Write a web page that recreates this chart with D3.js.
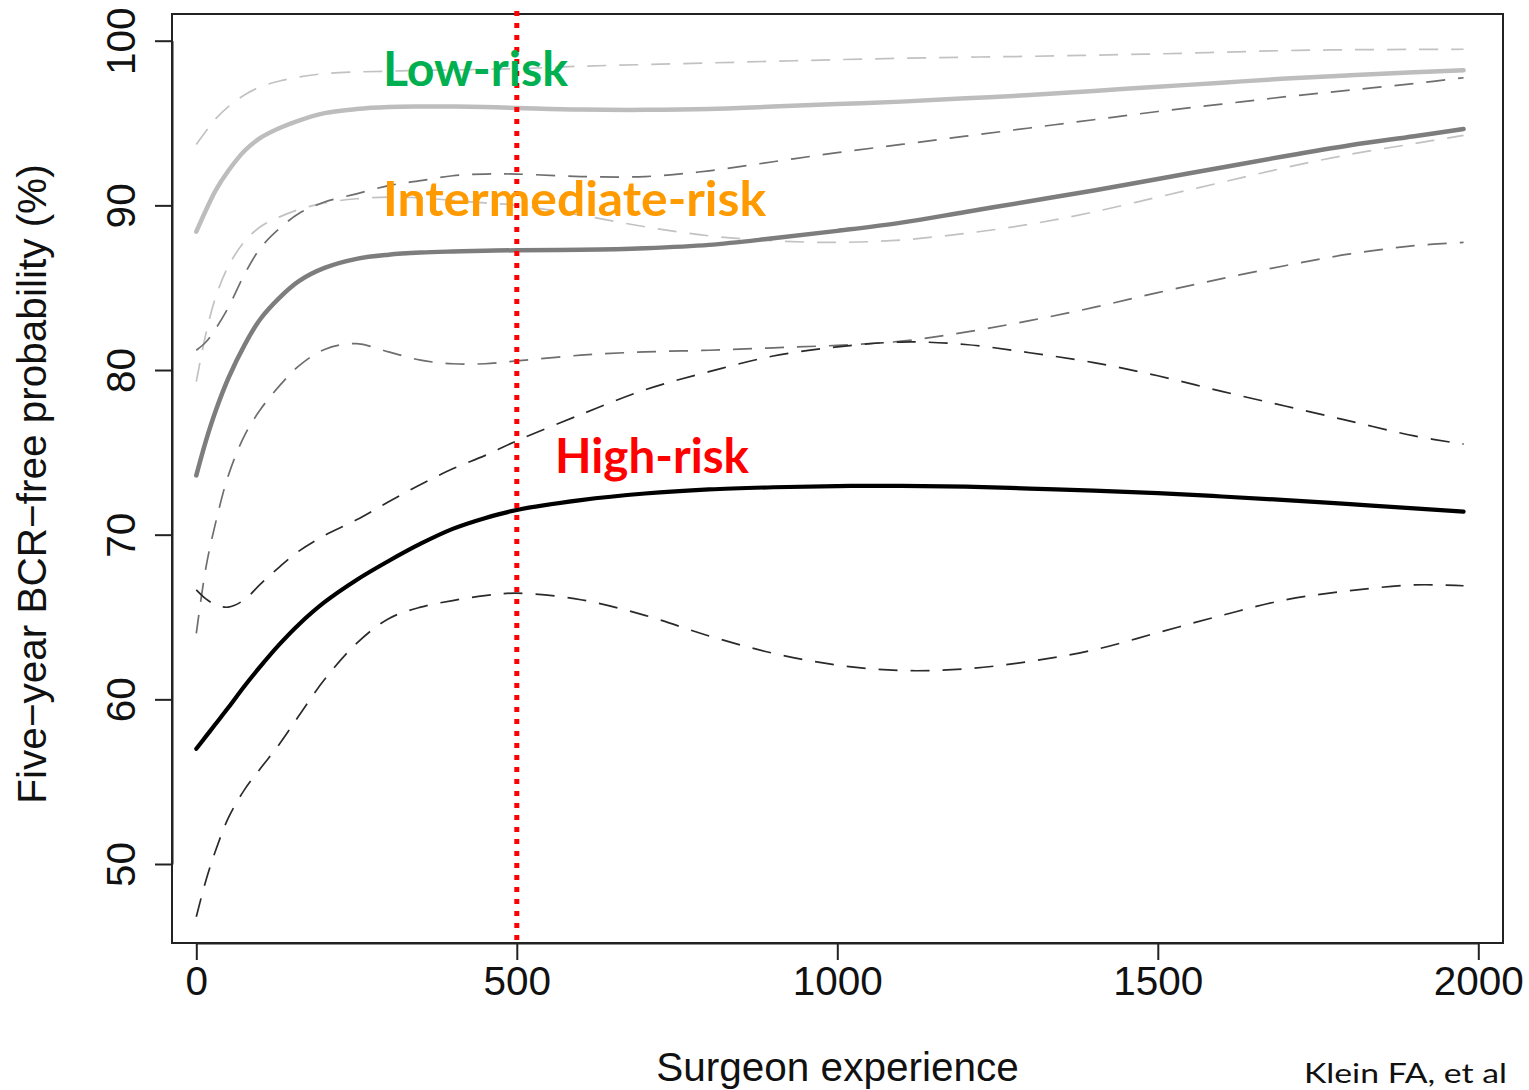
<!DOCTYPE html>
<html>
<head>
<meta charset="utf-8">
<script src="https://cdn.jsdelivr.net/npm/d3@7"></script>
<style>
  html, body { margin: 0; padding: 0; background: #fff; }
  svg { display: block; }
</style>
</head>
<body>
<svg id="chart" width="1529" height="1090"></svg>
<script>
// Surgeon experience grid (cases) shared by every curve
const experience = [0, 15, 30, 50, 75, 100, 130, 160, 200, 250, 300, 350, 400, 450, 500,
  600, 700, 800, 900, 1000, 1100, 1200, 1300, 1400, 1500, 1600, 1700, 1800, 1900, 1977];

// Five-year BCR-free probability (%), low-risk group
const lowUpper = [93.7, 94.5, 95.25, 96.0, 96.7, 97.2, 97.55, 97.8, 98.0, 98.1, 98.15, 98.2, 98.22, 98.26, 98.3,
  98.45, 98.55, 98.65, 98.75, 98.85, 98.93, 99.0, 99.05, 99.12, 99.2, 99.3, 99.4, 99.45, 99.47, 99.48];
const lowMean = [88.4, 89.7, 90.9, 92.1, 93.3, 94.1, 94.7, 95.15, 95.6, 95.85, 95.97, 96.0, 96.0, 95.97, 95.92,
  95.82, 95.8, 95.85, 96.0, 96.15, 96.3, 96.5, 96.7, 96.95, 97.2, 97.45, 97.7, 97.9, 98.08, 98.2];
const lowLower = [79.3, 82.2, 84.4, 86.3, 87.8, 88.7, 89.3, 89.75, 90.15, 90.4, 90.5, 90.45, 90.3, 90.15, 90.0,
  89.4, 88.7, 88.15, 87.85, 87.75, 87.9, 88.3, 88.85, 89.6, 90.5, 91.4, 92.3, 93.1, 93.75, 94.25];

// Intermediate-risk group
const interUpper = [81.2, 81.7, 82.5, 83.8, 85.8, 87.4, 88.6, 89.5, 90.2, 90.7, 91.2, 91.5, 91.8, 91.9, 91.9,
  91.75, 91.75, 92.1, 92.65, 93.2, 93.7, 94.2, 94.7, 95.2, 95.7, 96.15, 96.6, 97.0, 97.4, 97.75];
const interMean = [73.6, 75.7, 77.5, 79.5, 81.5, 83.1, 84.4, 85.4, 86.2, 86.75, 87.0, 87.13, 87.2, 87.25, 87.27,
  87.3, 87.4, 87.6, 88.0, 88.45, 88.95, 89.6, 90.25, 90.9, 91.6, 92.3, 93.0, 93.65, 94.2, 94.64];
const interLower = [64.0, 68.0, 70.7, 73.6, 76.0, 77.6, 79.05, 80.25, 81.25, 81.6, 81.1, 80.6, 80.38, 80.38, 80.55,
  80.9, 81.1, 81.2, 81.35, 81.5, 81.75, 82.3, 83.0, 83.8, 84.7, 85.55, 86.35, 87.05, 87.55, 87.75];

// High-risk group
const highUpper = [66.65, 66.1, 65.75, 65.6, 66.05, 67.0, 68.05, 69.0, 69.95, 70.9, 72.0, 73.05, 74.0, 74.8, 75.7,
  77.3, 78.8, 79.9, 80.85, 81.4, 81.7, 81.55, 81.05, 80.45, 79.65, 78.7, 77.8, 76.9, 76.0, 75.5];
const highMean = [57.0, 57.75, 58.5, 59.5, 60.8, 62.0, 63.35, 64.55, 65.9, 67.25, 68.4, 69.45, 70.35, 71.0, 71.5,
  72.1, 72.5, 72.75, 72.88, 72.95, 72.97, 72.92, 72.8, 72.68, 72.52, 72.32, 72.1, 71.85, 71.6, 71.4];
const highLower = [46.8, 49.0, 50.8, 52.8, 54.5, 55.8, 57.3, 59.0, 61.2, 63.4, 64.9, 65.6, 66.0, 66.3, 66.45,
  66.05, 65.1, 63.85, 62.8, 62.08, 61.75, 61.85, 62.3, 63.0, 64.05, 65.1, 66.05, 66.6, 66.95, 66.9];

// Axis ticks, labels and annotations
const xTicks = [0, 500, 1000, 1500, 2000];
const yTicks = [50, 60, 70, 80, 90, 100];
const cutoff = 500;
const xTitle = "Surgeon experience";
const yTitle = "Five\u2212year BCR\u2212free probability (%)";
const groupLabels = ["Low-risk", "Intermediate-risk", "High-risk"];
const citation = "Klein FA, et al";

const svg = d3.select("#chart");
const rFont = "'Liberation Sans', Arial, sans-serif";

const x = d3.scaleLinear().domain([0, 2000]).range([196.3, 1478.3]);
const y = d3.scaleLinear().domain([50, 100]).range([864, 40.7]);

const box = { left: 172, top: 14, right: 1503, bottom: 943 };

const line = d3.line()
  .x((d, i) => x(experience[i]))
  .y(d => y(d))
  .curve(d3.curveCatmullRom.alpha(0.5));

const series = [
  { values: lowUpper,   color: "#c2c2c2", width: 1.7, dash: "19,13" },
  { values: lowLower,   color: "#c2c2c2", width: 1.7, dash: "19,13" },
  { values: interUpper, color: "#6e6e6e", width: 1.7, dash: "19,13" },
  { values: interLower, color: "#6e6e6e", width: 1.7, dash: "19,13" },
  { values: highUpper,  color: "#2a2a2a", width: 1.7, dash: "19,13" },
  { values: highLower,  color: "#2a2a2a", width: 1.7, dash: "19,13" },
  { values: lowMean,    color: "#bdbdbd", width: 4.5, dash: null },
  { values: interMean,  color: "#7d7d7d", width: 4.5, dash: null },
  { values: highMean,   color: "#000000", width: 4.2, dash: null }
];

const plot = svg.append("g");
series.forEach(s => {
  plot.append("path")
    .datum(s.values)
    .attr("d", line)
    .attr("fill", "none")
    .attr("stroke", s.color)
    .attr("stroke-width", s.width)
    .attr("stroke-linecap", s.dash ? "butt" : "round")
    .attr("stroke-dasharray", s.dash);
});

// Frame
svg.append("rect")
  .attr("x", box.left).attr("y", box.top)
  .attr("width", box.right - box.left).attr("height", box.bottom - box.top)
  .attr("fill", "none").attr("stroke", "#222").attr("stroke-width", 2);

// X axis
const gx = svg.append("g")
  .attr("transform", `translate(0,${box.bottom})`)
  .call(d3.axisBottom(x).tickValues(xTicks).tickSize(17).tickSizeOuter(0).tickFormat(d3.format("d")));
gx.select(".domain").attr("stroke", "#222").attr("stroke-width", 2);
gx.selectAll(".tick line").attr("stroke", "#222").attr("stroke-width", 2);
gx.selectAll(".tick text")
  .attr("y", 52).attr("dy", 0)
  .attr("fill", "#111")
  .style("font-family", rFont).style("font-size", "40.5px");

// Y axis with labels running parallel to the axis
const gy = svg.append("g")
  .attr("transform", `translate(${box.left},0)`)
  .call(d3.axisLeft(y).tickValues(yTicks).tickSize(17).tickSizeOuter(0));
gy.select(".domain").attr("stroke", "#222").attr("stroke-width", 2);
gy.selectAll(".tick line").attr("stroke", "#222").attr("stroke-width", 2);
gy.selectAll(".tick text")
  .attr("x", 0).attr("y", 0).attr("dy", 0)
  .attr("text-anchor", "middle")
  .attr("transform", "translate(-37,0) rotate(-90)")
  .attr("fill", "#111")
  .style("font-family", rFont).style("font-size", "40.5px");

// Axis titles
svg.append("text")
  .attr("x", (box.left + box.right) / 2).attr("y", 1081)
  .attr("text-anchor", "middle")
  .attr("fill", "#111")
  .style("font-family", rFont).style("font-size", "40.5px")
  .text(xTitle);

svg.append("text")
  .attr("transform", `translate(46,${484}) rotate(-90)`)
  .attr("text-anchor", "middle")
  .attr("fill", "#111")
  .style("font-family", rFont).style("font-size", "40.5px")
  .text(yTitle);

// Learning-curve cutoff at 500 cases
svg.append("line")
  .attr("x1", x(cutoff)).attr("x2", x(cutoff))
  .attr("y1", 11).attr("y2", box.bottom + 3)
  .attr("stroke", "#ff0000").attr("stroke-width", 5)
  .attr("stroke-dasharray", "5,7");

// Risk group annotations
const labelFont = "Lato, 'Open Sans', sans-serif";
const annotations = [
  { text: groupLabels[0], x: 383, y: 86,  w: 185, color: "#00b050" },
  { text: groupLabels[1], x: 383, y: 216, w: 383, color: "#ff9a00" },
  { text: groupLabels[2], x: 555, y: 473, w: 194, color: "#ff0000" }
];
annotations.forEach(a => {
  svg.append("text")
    .attr("x", a.x).attr("y", a.y)
    .attr("fill", a.color)
    .attr("textLength", a.w)
    .attr("lengthAdjust", "spacingAndGlyphs")
    .style("font-family", labelFont).style("font-weight", "bold").style("font-size", "47px")
    .text(a.text);
});

svg.append("text")
  .attr("x", 1304).attr("y", 1083)
  .attr("fill", "#111")
  .attr("textLength", 203)
  .attr("lengthAdjust", "spacingAndGlyphs")
  .style("font-family", labelFont).style("font-size", "26px")
  .text(citation);
</script>
</body>
</html>
